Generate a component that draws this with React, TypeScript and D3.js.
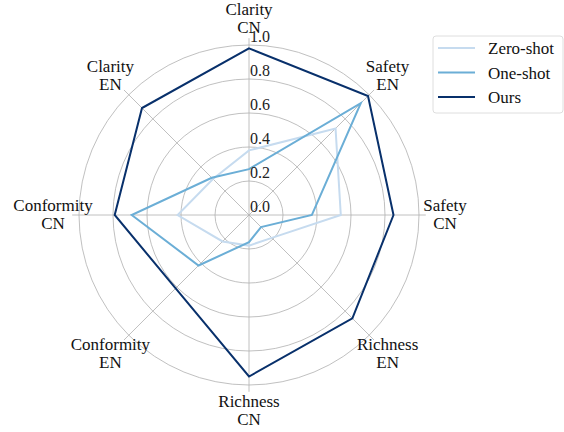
import { useEffect, useRef } from 'react'
import * as d3 from 'd3'

// axes go clockwise from the top
const axes = [
    ['Clarity', 'CN'],
    ['Safety', 'EN'],
    ['Safety', 'CN'],
    ['Richness', 'EN'],
    ['Richness', 'CN'],
    ['Conformity', 'EN'],
    ['Conformity', 'CN'],
    ['Clarity', 'EN'],
]

const seriesNames = ['Zero-shot', 'One-shot', 'Ours']
const seriesColors = ['#c6dbef', '#6baed6', '#08306b']

const zeroShot = [0.38, 0.72, 0.54, 0.19, 0.18, 0.22, 0.42, 0.30]
const oneShot = [0.27, 0.93, 0.37, 0.10, 0.16, 0.42, 0.69, 0.31]
const ours = [0.98, 0.99, 0.85, 0.86, 0.95, 0.61, 0.79, 0.89]

const radialTicks = [0.0, 0.2, 0.4, 0.6, 0.8, 1.0]

export default function App() {
    const svgRef = useRef<SVGSVGElement>(null)

    useEffect(() => {
        if (!svgRef.current) return
        const width = 564
        const height = 432
        const cx = 249
        const cy = 215
        const R = 170
        const font = "'Liberation Serif', 'Times New Roman', 'DejaVu Serif', serif"

        const svg = d3.select(svgRef.current)
        svg.selectAll('*').remove()
        svg.attr('width', width)
            .attr('height', height)
            .attr('font-family', font)

        const r = d3.scaleLinear().domain([0, 1]).range([0, R])
        const angle = d3.scaleLinear()
            .domain([0, axes.length])
            .range([0, 2 * Math.PI])

        const g = svg.append('g').attr('transform', `translate(${cx},${cy})`)

        // circular grid
        g.selectAll('.ring')
            .data(radialTicks.filter(t => t > 0))
            .enter()
            .append('circle')
            .attr('r', d => r(d))
            .attr('fill', 'none')
            .attr('stroke', '#b0b0b0')
            .attr('stroke-width', 0.8)

        // spokes
        g.selectAll('.spoke')
            .data(axes)
            .enter()
            .append('line')
            .attr('x1', 0)
            .attr('y1', 0)
            .attr('x2', (d, i) => r(1.04) * Math.sin(angle(i)))
            .attr('y2', (d, i) => -r(1.04) * Math.cos(angle(i)))
            .attr('stroke', '#b0b0b0')
            .attr('stroke-width', 0.8)

        // series
        const line = d3.lineRadial<number>()
            .angle((d, i) => angle(i))
            .radius(d => r(d))
            .curve(d3.curveLinearClosed)

        const allSeries = [zeroShot, oneShot, ours]
        allSeries.forEach((vals, k) => {
            g.append('path')
                .attr('d', line(vals))
                .attr('fill', 'none')
                .attr('stroke', seriesColors[k])
                .attr('stroke-width', 2)
        })

        // radial tick labels
        g.selectAll('.rtick')
            .data(radialTicks)
            .enter()
            .append('text')
            .attr('x', 1)
            .attr('y', d => -r(d) - 3)
            .attr('font-family', font)
            .attr('font-size', 16)
            .attr('fill', '#222')
            .text(d => d.toFixed(1))

        // axis labels
        const labels = g.selectAll('.alabel')
            .data(axes)
            .enter()
            .append('text')
            .attr('text-anchor', 'middle')
            .attr('font-family', font)
            .attr('font-size', 17)
            .attr('fill', '#111')
            .attr('transform', (d, i) => {
                const a = angle(i)
                return `translate(${196 * Math.sin(a)},${-196 * Math.cos(a)})`
            })
        labels.append('tspan')
            .attr('x', 0)
            .attr('y', -4)
            .text(d => d[0])
        labels.append('tspan')
            .attr('x', 0)
            .attr('y', 14)
            .text(d => d[1])

        // legend
        const legend = svg.append('g').attr('transform', 'translate(433,36)')
        legend.append('rect')
            .attr('width', 130)
            .attr('height', 77)
            .attr('rx', 3)
            .attr('fill', 'white')
            .attr('stroke', '#d5d5d5')
            .attr('stroke-width', 0.8)

        const items = legend.selectAll('.item')
            .data(seriesNames)
            .enter()
            .append('g')
            .attr('transform', (d, i) => `translate(0,${12 + i * 24.5})`)
        items.append('line')
            .attr('x1', 5)
            .attr('x2', 42)
            .attr('stroke', (d, i) => seriesColors[i])
            .attr('stroke-width', 2)
        items.append('text')
            .attr('x', 55)
            .attr('y', 6)
            .attr('font-family', font)
            .attr('font-size', 17)
            .attr('fill', '#111')
            .text(d => d)
    }, [])

    return (
        <div style={{ position: 'absolute', left: 0, top: 0 }}>
            <svg ref={svgRef}></svg>
        </div>
    )
}
